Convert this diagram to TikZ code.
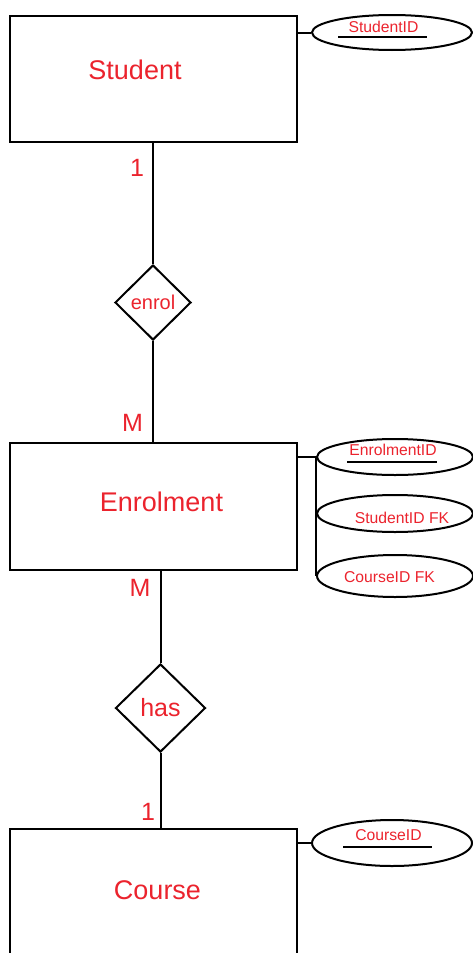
\documentclass[tikz,border=0pt]{standalone}
\usepackage{fontspec}
\setmainfont{Liberation Sans}
\usetikzlibrary{shapes.geometric}
\definecolor{ered}{RGB}{235,35,45}
\begin{document}
\begin{tikzpicture}[x=1pt,y=-1pt,line width=2pt,
  entity/.style={draw,rectangle,minimum width=287pt,inner sep=0pt},
  rel/.style={draw,diamond,inner sep=0pt,text=ered},
  attr/.style={draw,ellipse,inner sep=0pt},
  bigtxt/.style={text=ered,inner sep=0pt,font=\fontsize{27}{29}\selectfont},
  cardtxt/.style={text=ered,inner sep=0pt,font=\fontsize{25}{27}\selectfont},
  attrtxt/.style={text=ered,inner sep=0pt,font=\fontsize{15.7}{17}\selectfont},
  uline/.style={line width=2pt}]
\useasboundingbox (0,0) rectangle (473,953);
\clip (0,0) rectangle (473,953);
% entities
\node[entity,minimum height=126pt] (stu) at (153.5,79) {};
\node[entity,minimum height=127pt] (enr) at (153.5,506.5) {};
\node[entity,minimum height=140pt] (crs) at (153.5,899) {};
\node[bigtxt] (stut) at (135,70) {Student};
\node[bigtxt] (enrt) at (161.5,502) {Enrolment};
\node[bigtxt] (crst) at (157.5,890) {Course};
% relationships
\node[rel,minimum width=76pt,minimum height=75pt,font=\fontsize{20}{22}\selectfont] (enrol) at (153,302.5) {enrol};
\node[rel,minimum width=90pt,minimum height=88pt,font=\fontsize{25}{27}\selectfont] (has) at (160.5,708) {has};
\draw (enrol.north |- stu.south) -- (enrol.north);
\draw (enrol.south) -- (enrol.south |- enr.north);
\draw (has.north |- enr.south) -- (has.north);
\draw (has.south) -- (has.south |- crs.north);
% cardinalities
\node[cardtxt] (c1) at (137,167.5) {1};
\node[cardtxt] (c2) at (132.5,423) {M};
\node[cardtxt] (c3) at (140,587.5) {M};
\node[cardtxt] (c4) at (148,811.5) {1};
% attributes
\node[attr,minimum width=160pt,minimum height=35pt] (a1) at (392,32.5) {};
\node[attr,minimum width=156pt,minimum height=36pt] (a2) at (395,457) {};
\node[attr,minimum width=156pt,minimum height=37pt] (a3) at (395,513.5) {};
\node[attr,minimum width=156pt,minimum height=42pt] (a4) at (395,576) {};
\node[attr,minimum width=160pt,minimum height=46pt] (a5) at (392,843) {};
\draw (stu.east |- a1.west) -- (a1.west);
\draw (enr.east |- a2.west) -- (a2.west);
\draw (a2.west) -- (a4.west);
\draw (crs.east |- a5.west) -- (a5.west);
\node[attrtxt] (t1) at (383.5,27) {StudentID};
\node[attrtxt] (t2) at (393,450) {EnrolmentID};
\node[attrtxt] (t3) at (402,518) {StudentID FK};
\node[attrtxt] (t4) at (389.5,577) {CourseID FK};
\node[attrtxt] (t5) at (388.5,835) {CourseID};
\draw[uline] (338,37) -- (427,37);
\draw[uline] (347,462) -- (437,462);
\draw[uline] (343,847) -- (432,847);
\end{tikzpicture}
\end{document}
